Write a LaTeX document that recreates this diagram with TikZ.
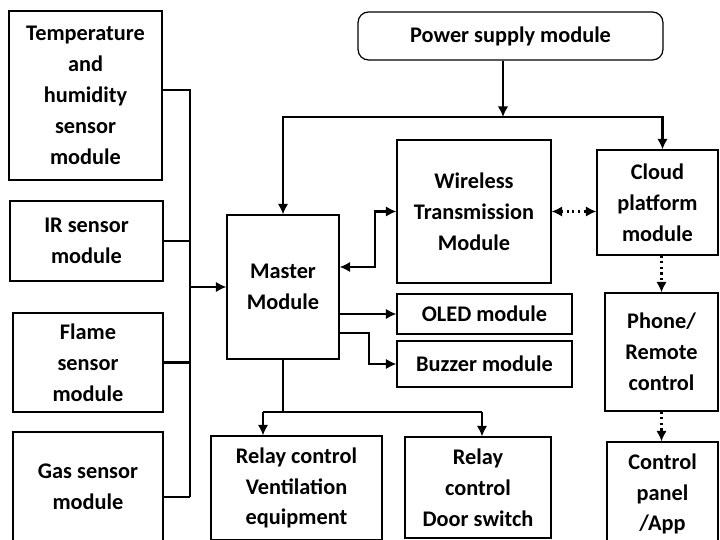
\documentclass[tikz,border=0pt]{standalone}
\usepackage{fontspec}
\setmainfont{Carlito}
\usetikzlibrary{arrows.meta}

\begin{document}
\begin{tikzpicture}[x=0.02cm, y=-0.02cm,
    box/.style={draw, line width=.7pt, align=center, inner sep=2pt,
        font=\fontsize{12.7}{17.6}\selectfont\bfseries},
    link/.style={line width=1.2pt, line join=miter, -{Latex[length=6pt,width=6pt]}},
    both/.style={link, {Latex[length=6pt,width=6pt]}-{Latex[length=6pt,width=6pt]}},
    wire/.style={line width=1.2pt}]

    \useasboundingbox (0,0) rectangle (720,540);
    \clip (0,0) rectangle (720,540);

    % Nodes
    \node[box, minimum width=3.06cm, minimum height=3.38cm] (temp) at (85.5,95.5) {Temperature\\and\\humidity\\sensor\\module};
    \node[box, minimum width=3.06cm, minimum height=1.6cm] (ir) at (86.5,241) {IR sensor\\module};
    \node[box, minimum width=3.0cm, minimum height=1.98cm] (flame) at (88,362.5) {Flame\\sensor\\module};
    \node[box, minimum width=3.0cm, minimum height=2.2cm] (gas) at (88,487) {Gas sensor\\module};
    \node[box, minimum width=2.24cm, minimum height=2.88cm] (master) at (283,287) {Master\\Module};
    \node[box, rounded corners=6pt, minimum width=6.1cm, minimum height=.96cm] (power) at (510.5,36) {Power supply module};
    \node[box, minimum width=3.08cm, minimum height=2.86cm] (wireless) at (474,211.5) {Wireless\\Transmission\\Module};
    \node[box, minimum width=2.42cm, minimum height=2.1cm] (cloud) at (657.5,202.5) {Cloud\\platform\\module};
    \node[box, minimum width=3.5cm, minimum height=.8cm] (oled) at (484.5,314) {OLED module};
    \node[box, minimum width=3.5cm, minimum height=.92cm] (buzzer) at (484.5,364) {Buzzer module};
    \node[box, minimum width=2.26cm, minimum height=2.36cm] (phone) at (661.5,352) {Phone/\\Remote\\control};
    \node[box, minimum width=2.22cm, minimum height=2.08cm] (panel) at (662.5,494) {Control\\panel\\/App};
    \node[box, minimum width=3.42cm, minimum height=2.08cm] (relvent) at (296.5,488) {Relay control\\Ventilation\\equipment};
    \node[box, minimum width=2.92cm, minimum height=2.02cm] (reldoor) at (478,487.5) {Relay\\control\\Door switch};

    % Junctions
    \coordinate (bustop) at (190,90);
    \coordinate (busbot) at (190,497);
    \coordinate (pwrjoin) at (503,117);
    \coordinate (mwbend) at (375,267);
    \coordinate (mbbend) at (369,333);
    \coordinate (relsplit) at (283,412);
    \coordinate (relleft) at (263,412);
    \coordinate (relright) at (482,412);

    % Edges
    \draw[wire] (temp.east |- bustop) -- (bustop) -- (busbot);
    \draw[wire] (ir.east) -- (ir.east -| bustop);
    \draw[wire] (flame.east) -- (flame.east -| bustop);
    \draw[wire] (gas.east |- busbot) -- (busbot);
    \draw[link] (bustop |- master.west) -- (master.west);

    \draw[link] (power.south -| pwrjoin) -- (pwrjoin);
    \draw[link] (pwrjoin) -| (master.north);
    \draw[link] (pwrjoin) -| ([xshift=.1cm]cloud.north);

    \draw[both] (master.east |- mwbend) -- (mwbend) |- (wireless.west);
    \draw[both, dotted] (wireless.east) -- (wireless.east -| cloud.west);
    \draw[link] (master.east |- oled.west) -- (oled.west);
    \draw[link] (master.east |- mbbend) -- (mbbend) |- (buzzer.west);

    \draw[wire] (master.south) -- (relsplit);
    \draw[wire] (relleft) -- (relright);
    \draw[link] (relleft) -- (relleft |- relvent.north);
    \draw[link] (relright) -- (relright |- reldoor.north);

    \draw[link, dotted] (cloud.south -| phone.north) -- (phone.north);
    \draw[link, dotted] (phone.south) -- (phone.south |- panel.north);

\end{tikzpicture}
\end{document}
